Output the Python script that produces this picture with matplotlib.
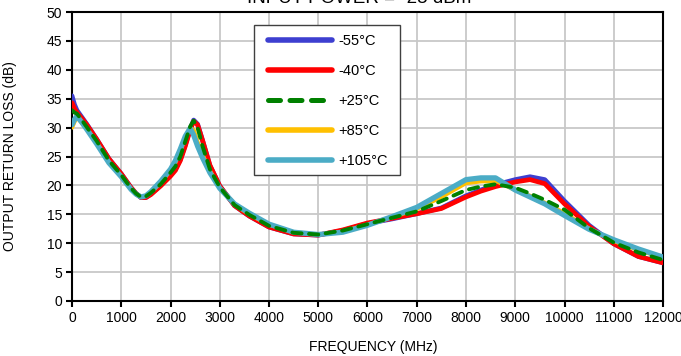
import matplotlib
matplotlib.use("Agg")
import matplotlib.pyplot as plt
from matplotlib.patches import Rectangle

plt.rcParams['font.family'] = ['Liberation Sans', 'DejaVu Sans']

freq_mhz = [0, 50, 100, 200, 300, 500, 750, 1000, 1200, 1300, 1400, 1500, 1600, 1800, 2000,
            2100, 2200, 2300, 2400, 2470, 2550, 2650, 2800, 3000, 3300, 3600, 4000, 4500, 5000,
            5500, 6000, 6500, 7000, 7500, 8000, 8300, 8600, 9000, 9300, 9600, 10000, 10500,
            11000, 11500, 12000]

rl_m55 = [35.5, 34.0, 33.0, 31.8, 30.6, 28.0, 24.6, 22.0, 19.6, 18.6, 17.9, 17.9, 18.5, 20.0, 21.8,
          22.8, 24.5, 27.0, 29.8, 31.3, 30.6, 27.8, 23.4, 19.9, 16.5, 14.7, 12.8, 11.6, 11.4,
          12.2, 13.4, 14.2, 15.1, 16.1, 18.2, 19.2, 20.1, 21.0, 21.5, 21.0, 17.3, 13.1,
          9.9, 7.7, 6.6]
rl_m40 = [34.3, 33.3, 32.6, 31.6, 30.5, 28.0, 24.6, 22.0, 19.6, 18.6, 17.9, 17.9, 18.4, 19.9, 21.6,
          22.6, 24.3, 26.8, 29.6, 31.1, 30.5, 27.8, 23.5, 19.9, 16.5, 14.7, 12.8, 11.6, 11.4,
          12.3, 13.5, 14.3, 15.1, 16.0, 18.0, 19.0, 19.8, 20.6, 21.0, 20.3, 16.8, 12.9,
          9.9, 7.7, 6.6]
rl_p25 = [33.0, 32.6, 32.4, 31.3, 30.1, 27.7, 24.3, 21.8, 19.5, 18.6, 18.0, 18.1, 18.7, 20.2, 22.2,
          23.3, 25.0, 27.6, 30.2, 31.2, 30.0, 26.8, 22.8, 19.7, 16.6, 14.9, 13.0, 11.8, 11.5,
          12.2, 13.3, 14.4, 15.5, 17.3, 19.2, 19.8, 20.2, 19.6, 18.6, 17.5, 15.8, 12.6,
          10.1, 8.4, 7.1]
rl_p85 = [30.0, 31.0, 31.8, 30.8, 29.8, 27.4, 24.0, 21.6, 19.4, 18.5, 18.0, 18.2, 18.8, 20.5, 22.6,
          24.0, 26.0, 28.3, 29.9, 29.6, 27.5, 25.3, 22.5, 19.6, 16.7, 15.0, 13.2, 11.9, 11.5,
          12.0, 13.2, 14.5, 15.9, 18.0, 20.4, 20.7, 20.8, 19.2, 18.2, 17.0, 15.2, 12.5,
          10.4, 8.8, 7.5]
rl_p105 = [30.5, 31.4, 32.0, 30.9, 29.7, 27.2, 23.9, 21.5, 19.3, 18.5, 18.0, 18.2, 18.9, 20.7, 22.8,
           24.3, 26.3, 28.5, 29.9, 28.7, 26.8, 24.8, 22.2, 19.5, 16.8, 15.2, 13.3, 11.9, 11.5,
           11.9, 13.1, 14.6, 16.2, 18.6, 21.0, 21.3, 21.3, 19.2, 18.0, 16.8, 14.8, 12.4,
           10.6, 9.0, 7.6]

labels = ['-55°C', '-40°C', '+25°C', '+85°C', '+105°C']
x_ticks = list(range(0, 12001, 1000))
y_ticks = list(range(0, 51, 5))

W, H = 681, 356
fig = plt.figure(figsize=(W / 100, H / 100), dpi=100)
L, R, T, B = 72, 663, 12, 301
ax = fig.add_axes([L / W, 1 - B / H, (R - L) / W, (B - T) / H])

ax.plot(freq_mhz, rl_m55, color='#3D3FD0', lw=3.4, solid_capstyle='round', solid_joinstyle='round',
        label=labels[0], zorder=3)
ax.plot(freq_mhz, rl_m40, color='#FF0000', lw=3.4, solid_capstyle='round', solid_joinstyle='round',
        label=labels[1], zorder=4)
ax.plot(freq_mhz, rl_p25, color='#008000', lw=2.8, linestyle=(0, (2.4, 1.9)),
        dash_capstyle='round', label=labels[2], zorder=6)
ax.plot(freq_mhz, rl_p85, color='#FFC000', lw=3.0, solid_capstyle='round', solid_joinstyle='round',
        label=labels[3], zorder=5)
ax.plot(freq_mhz, rl_p105, color='#4BACC6', lw=3.8, solid_capstyle='round', solid_joinstyle='round',
        label=labels[4], zorder=5.5)

ax.set_xlim(0, 12000)
ax.set_ylim(0, 50)
ax.set_xticks(x_ticks)
ax.set_yticks(y_ticks)
ax.set_xticklabels([str(v) for v in x_ticks])
ax.set_yticklabels([str(v) for v in y_ticks])
ax.grid(True, color='#C8C8C8', lw=1.3, zorder=0)
ax.set_axisbelow(True)
for s in ax.spines.values():
    s.set_color('black')
    s.set_linewidth(1.5)
ax.tick_params(direction='out', length=4, width=1.5, labelsize=10, pad=3, colors='black')

fig.text(10 / W, 1 - 156.5 / H, 'OUTPUT RETURN LOSS (dB)', rotation=90, ha='center', va='center', fontsize=10)
fig.text(373 / W, 1 - 347 / H, 'FREQUENCY (MHz)', ha='center', va='center', fontsize=10)
fig.text(359 / W, 1 - 2.7 / H, 'INPUT POWER = -25 dBm', ha='center', va='baseline', fontsize=13.5)

# legend frame
frame = Rectangle((254 / W, 1 - 175 / H), (400 - 254) / W, (175 - 25) / H, transform=fig.transFigure,
                  facecolor='white', edgecolor='#404040', linewidth=1.0, zorder=10, clip_on=False)
ax.add_patch(frame)

leg = ax.legend(loc='upper left', bbox_to_anchor=(268 / W, 1 - 34 / H), bbox_transform=fig.transFigure,
                frameon=False, fontsize=10.5, handlelength=4.4, handletextpad=0.42,
                labelspacing=1.1, borderpad=0, borderaxespad=0)
leg.set_zorder(11)
for h in leg.get_lines():
    h.set_linewidth(4.0)
    h.set_solid_capstyle('round')
leg.get_lines()[2].set_linewidth(3.6)

fig.savefig('out.png', dpi=100)
